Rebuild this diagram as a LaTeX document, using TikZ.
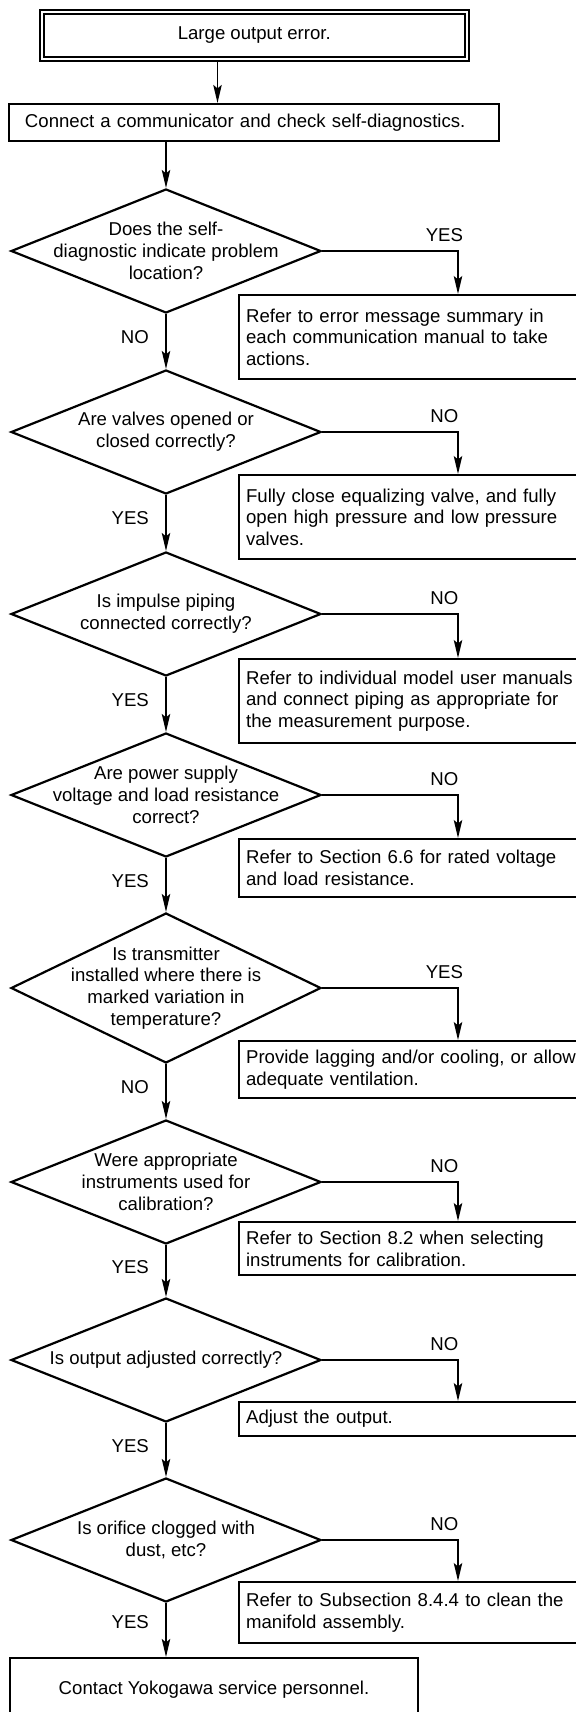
\documentclass[tikz,border=0pt]{standalone}
\usepackage{fontspec}
\setmainfont{Liberation Sans}
\usetikzlibrary{arrows.meta,shapes.geometric,positioning}

\begin{document}
\begin{tikzpicture}[
    x=1bp, y=-1bp,
    font=\fontsize{18.6bp}{21.7bp}\selectfont,
    box/.style={draw, line width=2.2bp, inner sep=0pt, align=center},
    side/.style={draw, line width=2.2bp, anchor=north west, inner xsep=7bp, inner ysep=0pt, text width=343bp, align=left},
    dec/.style={draw, diamond, line width=2.2bp, inner sep=0pt, minimum width=310bp, minimum height=124bp},
    dtxt/.style={align=center, inner sep=0pt},
    arr/.style={-{Stealth[length=18bp, width=8.5bp, inset=3.5bp]}, line width=1.3bp},
    lbl/.style={inner sep=0pt}
]
\useasboundingbox (0,0) rectangle (576,1712);
\clip (0,0) rectangle (576,1712);

% main column
\node[box, double, double distance=2bp, minimum width=425bp, minimum height=47bp] (top) at (254.3,35.5) {Large output error.};
\node[box, minimum width=490bp, minimum height=37bp, text width=458bp, align=left] (conn) at (254,122.5) {Connect a communicator and check self-diagnostics.};

\node[dec, label={[dtxt]center:{Does the self-\\diagnostic indicate problem\\location?}}] (d1) at (166,251) {};
\node[dec, label={[dtxt]center:{Are valves opened or\\closed correctly?}}] (d2) at (166,432) {};
\node[dec, label={[dtxt]center:{Is impulse piping\\connected correctly?}}] (d3) at (166,614) {};
\node[dec, label={[dtxt]center:{Are power supply\\voltage and load resistance\\correct?}}] (d4) at (166,795) {};
\node[dec, minimum height=150bp, label={[dtxt]center:{Is transmitter\\installed where there is\\marked variation in\\temperature?}}] (d5) at (166,988) {};
\node[dec, label={[dtxt]center:{Were appropriate\\instruments used for\\calibration?}}] (d6) at (166,1182) {};
\node[dec, label={[dtxt]center:{Is output adjusted correctly?}}] (d7) at (166,1360) {};
\node[dec, label={[dtxt]center:{Is orifice clogged with\\dust, etc?}}] (d8) at (166,1540) {};

\node[box, minimum width=408bp, minimum height=64bp] (fin) at (214,1690) {Contact Yokogawa service personnel.};

% actions on the right
\node[side, minimum height=84bp] (r1) at (238,294) {Refer to error message summary in\\each communication manual to take\\actions.};
\node[side, minimum height=84bp] (r2) at (238,474) {Fully close equalizing valve, and fully\\open high pressure and low pressure\\valves.};
\node[side, minimum height=84bp] (r3) at (238,658) {Refer to individual model user manuals\\and connect piping as appropriate for\\the measurement purpose.};
\node[side, minimum height=58bp] (r4) at (238,838) {Refer to Section 6.6 for rated voltage\\and load resistance.};
\node[side, minimum height=57bp] (r5) at (238,1040) {Provide lagging and/or cooling, or allow\\adequate ventilation.};
\node[side, minimum height=53bp] (r6) at (238,1221) {Refer to Section 8.2 when selecting\\instruments for calibration.};
\node[side, minimum height=34bp] (r7) at (238,1401) {Adjust the output.};
\node[side, minimum height=61bp] (r8) at (238,1581) {Refer to Subsection 8.4.4 to clean the\\manifold assembly.};

\coordinate (tx) at (217.5,0);
\coordinate (bx) at (458,0);

\draw[arr] (top.south -| tx) -- (conn.north -| tx);
\draw[arr] (conn.south -| d1.north) -- (d1.north);

\draw[arr] (d1.south) -- node[lbl, pos=0.42, left=16.5bp] {NO} (d2.north);
\draw[arr] (d2.south) -- node[lbl, pos=0.42, left=16.5bp] {YES} (d3.north);
\draw[arr] (d3.south) -- node[lbl, pos=0.42, left=16.5bp] {YES} (d4.north);
\draw[arr] (d4.south) -- node[lbl, pos=0.42, left=16.5bp] {YES} (d5.north);
\draw[arr] (d5.south) -- node[lbl, pos=0.42, left=16.5bp] {NO} (d6.north);
\draw[arr] (d6.south) -- node[lbl, pos=0.42, left=16.5bp] {YES} (d7.north);
\draw[arr] (d7.south) -- node[lbl, pos=0.42, left=16.5bp] {YES} (d8.north);
\draw[arr] (d8.south) -- node[lbl, pos=0.36, left=16.5bp] {YES} (d8.south |- fin.north);

\draw[arr] (d1.east) -| node[lbl, pos=0.45, above=9bp] {YES} (bx |- r1.north);
\draw[arr] (d2.east) -| node[lbl, pos=0.45, above=9bp] {NO} (bx |- r2.north);
\draw[arr] (d3.east) -| node[lbl, pos=0.45, above=9bp] {NO} (bx |- r3.north);
\draw[arr] (d4.east) -| node[lbl, pos=0.45, above=9bp] {NO} (bx |- r4.north);
\draw[arr] (d5.east) -| node[lbl, pos=0.45, above=9bp] {YES} (bx |- r5.north);
\draw[arr] (d6.east) -| node[lbl, pos=0.45, above=9bp] {NO} (bx |- r6.north);
\draw[arr] (d7.east) -| node[lbl, pos=0.45, above=9bp] {NO} (bx |- r7.north);
\draw[arr] (d8.east) -| node[lbl, pos=0.45, above=9bp] {NO} (bx |- r8.north);
\end{tikzpicture}
\end{document}
